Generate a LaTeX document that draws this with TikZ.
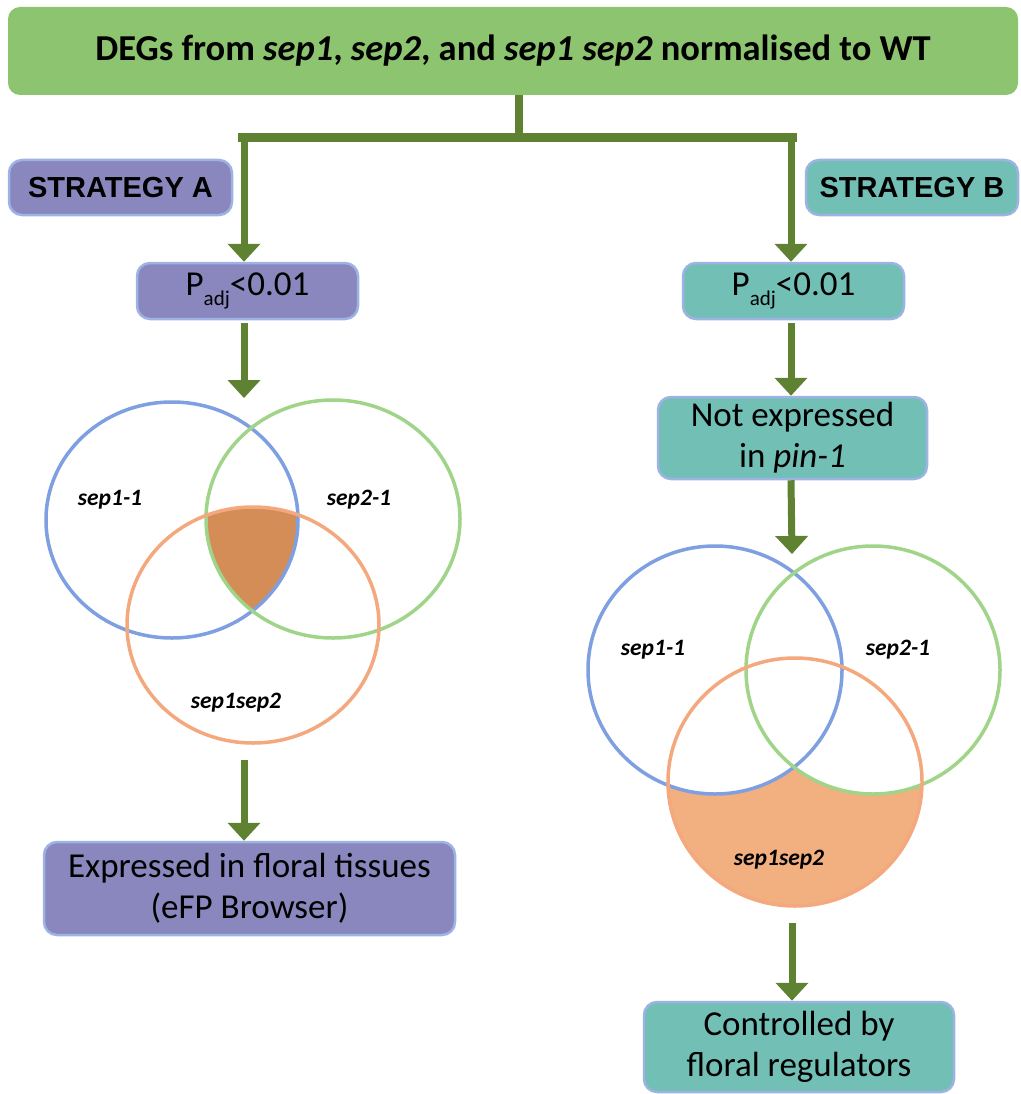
\documentclass[tikz,border=0pt]{standalone}
\usepackage{fontspec}
\setmainfont{Carlito}
\newfontfamily\strfont{Liberation Sans}
\usetikzlibrary{arrows.meta}
\definecolor{bannerG}{HTML}{8DC46F}
\definecolor{lineG}{HTML}{5E8232}
\definecolor{purp}{HTML}{8A87BE}
\definecolor{tealB}{HTML}{72BFB6}
\definecolor{bord}{HTML}{9DB3E3}
\definecolor{cBlue}{HTML}{7E9FE0}
\definecolor{cGreen}{HTML}{A0D488}
\definecolor{cOrange}{HTML}{F4A87E}
\definecolor{fillA}{HTML}{D58D57}
\definecolor{fillB}{HTML}{F2AF80}
\begin{document}
\begin{tikzpicture}[x=1pt,y=-1pt,
  box/.style={draw=bord, line width=2.5pt, rounded corners=13pt, align=center, inner sep=0pt, text=black},
  purpbox/.style={box, fill=purp},
  tealbox/.style={box, fill=tealB},
  arr/.style={draw=lineG, line width=7pt, -{Triangle[width=32pt,length=18pt]}},
  trunk/.style={draw=lineG, line width=8pt},
  venn/.style={line width=3.5pt},
  lab/.style={font=\fontsize{23.5}{23.5}\selectfont\bfseries\itshape},
  body/.style={font=\fontsize{35}{41}\selectfont},
  strat/.style={font=\strfont\fontsize{29}{29}\selectfont\bfseries}
]
\path[use as bounding box] (0,0) rectangle (1020,1094);

% banner
\node[fill=bannerG, rounded corners=12pt, minimum width=1010pt, minimum height=88pt, inner sep=0pt,
      font=\fontsize{36.5}{40}\selectfont\bfseries] (top) at (513,51)
  {DEGs from \textit{sep1}, \textit{sep2}, and \textit{sep1 sep2} normalised to WT};

% strategy labels
\node[purpbox, strat, minimum width=223pt, minimum height=55pt] (sA) at (120.5,187.5) {STRATEGY A};
\node[tealbox, strat, minimum width=212pt, minimum height=55pt] (sB) at (912,187.5) {STRATEGY B};

% p boxes
\node[purpbox, body, minimum width=221pt, minimum height=56pt] (pA) at (247.5,291)
  {P\raisebox{-0.3em}{\fontsize{21}{21}\selectfont adj}<0.01};
\node[tealbox, body, minimum width=221pt, minimum height=56pt] (pB) at (793.5,291)
  {P\raisebox{-0.3em}{\fontsize{21}{21}\selectfont adj}<0.01};

\node[tealbox, body, minimum width=269pt, minimum height=82pt] (nE) at (792.5,438)
  {Not expressed\\in \textit{pin-1}};

\node[purpbox, body, minimum width=411pt, minimum height=93pt] (bA) at (249.5,888.5)
  {Expressed in floral tissues\\(eFP Browser)};
\node[tealbox, body, minimum width=310pt, minimum height=90pt] (cB) at (799,1047)
  {Controlled by\\floral regulators};

% trunk and bar
\coordinate (jn) at (519,138);
\coordinate (barL) at (238,138);
\coordinate (barR) at (797,138);
\coordinate (colA) at (244,134);
\coordinate (colB) at (791,134);
\draw[trunk] (jn |- top.south) -- (jn);
\draw[draw=lineG, line width=9pt] (barL) -- (barR);
\draw[arr] (colA) -- (colA |- pA.north);
\draw[arr] (colB) -- (colB |- pB.north);

% Venn A
\coordinate (vAtop) at (244,398);
\coordinate (vAbot) at (244,760);
\begin{scope}
  \clip (172,520) ellipse [x radius=126pt, y radius=118pt];
  \clip (333,519) ellipse [x radius=127pt, y radius=119pt];
  \fill[fillA] (253,625) ellipse [x radius=126pt, y radius=118pt];
\end{scope}
\draw[venn, cBlue] (172,520) ellipse [x radius=126pt, y radius=118pt];
\draw[venn, cGreen] (333,519) ellipse [x radius=127pt, y radius=119pt];
\draw[venn, cOrange] (253,625) ellipse [x radius=126pt, y radius=118pt];
\node[lab] (a1) at (110,500) {sep1-1};
\node[lab] (a2) at (359,500) {sep2-1};
\node[lab] (a3) at (236,703) {sep1sep2};

% Venn B
\coordinate (vBtop) at (792,554);
\coordinate (vBbot) at (792,923);
\fill[fillB] (795,782) ellipse [x radius=127pt, y radius=124pt];
\fill[white] (715,670) ellipse [x radius=127pt, y radius=124pt];
\fill[white] (873,670) ellipse [x radius=127pt, y radius=124pt];
\draw[venn, cBlue] (715,670) ellipse [x radius=127pt, y radius=124pt];
\draw[venn, cGreen] (873,670) ellipse [x radius=127pt, y radius=124pt];
\draw[venn, cOrange] (795,782) ellipse [x radius=127pt, y radius=124pt];
\node[lab] (b1) at (653,650) {sep1-1};
\node[lab] (b2) at (898,650) {sep2-1};
\node[lab] (b3) at (779,860) {sep1sep2};

% arrows
\draw[arr, shorten <=3pt] (colA |- pA.south) -- (vAtop);
\draw[arr] (vAbot) -- (vAbot |- bA.north);
\draw[arr, shorten <=3pt] (colB |- pB.south) -- (colB |- nE.north);
\draw[arr] (colB |- nE.south) -- (vBtop);
\draw[arr] (vBbot) -- (vBbot |- cB.north);
\end{tikzpicture}
\end{document}
